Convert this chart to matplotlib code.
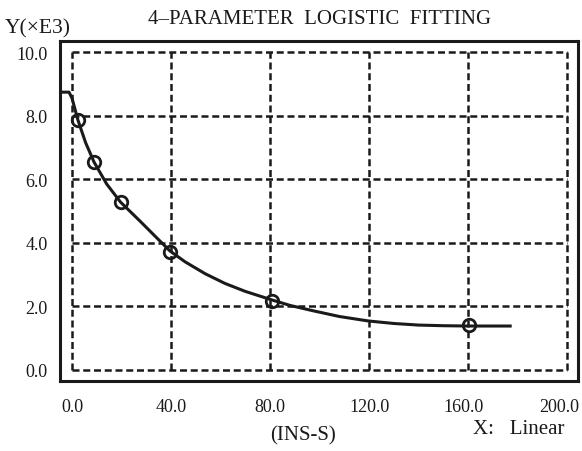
import numpy as np
import matplotlib
matplotlib.use("Agg")
import matplotlib.pyplot as plt
from matplotlib.transforms import ScaledTranslation

plt.rcParams["font.family"] = ["Liberation Serif", "DejaVu Serif"]

# ── data ──────────────────────────────────────────────────────────────────
X_TICKS = [0.0, 40.0, 80.0, 120.0, 160.0, 200.0]
Y_TICKS = [0.0, 2.0, 4.0, 6.0, 8.0, 10.0]

# measured standards
point_x = [2.4, 8.9, 19.6, 39.6, 80.8, 160.4]
point_y = [7.86, 6.54, 5.28, 3.71, 2.18, 1.42]

# fitted curve
curve_x = [-4.8, -1.2, 0.0, 2.4, 5.5, 8.9, 14.0, 19.6, 27.5, 34.3, 39.6,
           45.7, 53.7, 61.8, 70.0, 80.8, 88.0, 97.4, 108.0, 119.6, 130.0,
           140.0, 150.0, 160.4, 177.0]
curve_y = [8.74, 8.74, 8.55, 7.86, 7.15, 6.54, 5.85, 5.28, 4.68, 4.15, 3.74,
           3.40, 3.03, 2.72, 2.47, 2.20, 2.03, 1.86, 1.68, 1.54, 1.46,
           1.41, 1.39, 1.38, 1.38]

INK = "#1a1a1a"

fig = plt.figure(figsize=(5.82, 4.52), dpi=100)
ax = fig.add_axes([60 / 582, 70 / 452, 518 / 582, 340 / 452])

ax.set_xlim(-4.85, 204.4)
ax.set_ylim(-0.35, 10.35)

# dashed grid box
dash = dict(color=INK, linewidth=1.8, linestyles=(0, (2.8, 1.5)))
ax.hlines(Y_TICKS, X_TICKS[0], X_TICKS[-1], **dash)
ax.vlines(X_TICKS, Y_TICKS[0], Y_TICKS[-1], **dash)

ax.plot(curve_x, curve_y, color=INK, linewidth=2.2, zorder=3,
        solid_joinstyle="round")
ax.plot(point_x, point_y, linestyle="none", marker="o", markersize=9,
        markerfacecolor="none", markeredgecolor=INK,
        markeredgewidth=2.0, zorder=4)

for side in ax.spines.values():
    side.set_linewidth(2.2)
    side.set_color(INK)

ax.set_xticks(X_TICKS)
ax.set_yticks(Y_TICKS)
ax.set_xticklabels([f"{v:.1f}" for v in X_TICKS])
ax.set_yticklabels([f"{v:.1f}" for v in Y_TICKS])
ax.tick_params(length=0, labelsize=13, colors=INK)
ax.tick_params(axis="x", pad=12)
ax.tick_params(axis="y", pad=9)

# the scan has the last two x labels nudged left of their grid lines
for lab, dx in zip(ax.get_xticklabels()[-2:], [-5, -8]):
    lab.set_transform(lab.get_transform() +
                      ScaledTranslation(dx / 100, 0, fig.dpi_scale_trans))

fig.text(320 / 582, 1 - 19 / 452, "4\u2013PARAMETER  LOGISTIC  FITTING",
         ha="center", va="center", fontsize=15, color=INK)
fig.text(5 / 582, 1 - 29 / 452, "Y(\u00d7E3)", ha="left", va="center",
         fontsize=15.5, color=INK)
fig.text(303 / 582, 1 - 436 / 452, "(INS-S)", ha="center", va="center",
         fontsize=15, color=INK)
fig.text(473 / 582, 1 - 430 / 452, "X:   Linear", ha="left", va="center",
         fontsize=15, color=INK)

fig.savefig("out.png", dpi=100, facecolor="white")
